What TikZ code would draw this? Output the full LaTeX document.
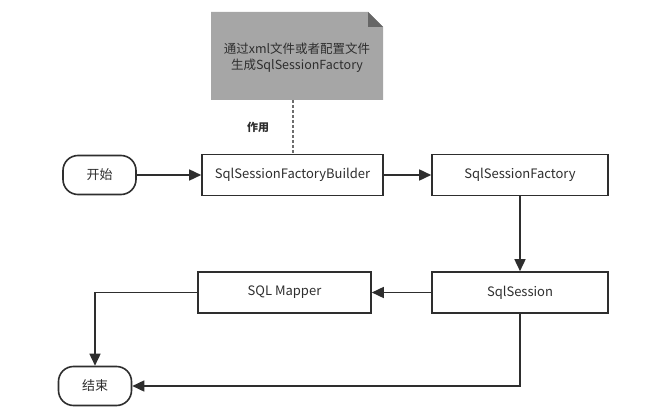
\documentclass[tikz,border=0pt]{standalone}
\usepackage{fontspec}
\setmainfont{Noto Sans CJK SC}
\usetikzlibrary{arrows.meta}
\definecolor{ln}{HTML}{2E2E2E}
\definecolor{notefill}{HTML}{A6A6A6}
\definecolor{notecorner}{HTML}{666666}
\tikzset{
  box/.style={draw=ln, line width=1.6pt, fill=white, minimum height=41pt, font=\fontsize{13}{15}\selectfont, text=ln},
  term/.style={box, rounded corners=15pt, minimum width=73pt, minimum height=39pt},
  conn/.style={draw=ln, line width=1.6pt, -{Triangle[length=12pt,width=11pt]}},
}
\begin{document}
\begin{tikzpicture}[x=1pt,y=-1pt]
\useasboundingbox (0,0) rectangle (664,417);
% note
\fill[notefill] (211,12) -- (368,12) -- (383,27) -- (383,100) -- (211,100) -- cycle;
\fill[notecorner] (368,12) -- (383,27) -- (368,27) -- cycle;
\node[align=center, font=\fontsize{12.5}{16}\selectfont, text=ln] (note) at (297,58) {通过xml文件或者配置文件\\生成SqlSessionFactory};
\coordinate (noteb) at (293,100);
\node[font=\bfseries\fontsize{11}{13}\selectfont, text=ln] (use) at (258,127) {作用};

\node[term] (start) at (99.5,175) {开始};
\node[box, minimum width=181pt] (builder) at (292.5,175) {SqlSessionFactoryBuilder};
\node[box, minimum width=176pt] (factory) at (520,175) {SqlSessionFactory};
\node[box, minimum width=176pt] (session) at (520,292.5) {SqlSession};
\node[box, minimum width=173pt] (mapper) at (284.5,292.5) {SQL Mapper};
\node[term] (end) at (95,386) {结束};

\draw[ln!70, line width=1.2pt, dash pattern=on 3pt off 2pt] (noteb) -- (noteb |- builder.north);
\draw[conn] (start) -- (builder);
\draw[conn] (builder) -- (factory);
\draw[conn] (factory) -- (session);
\draw[conn] (session) -- (mapper);
\draw[conn] (mapper.west) -| (end.north);
\draw[conn] (session.south) |- (end.east);
\end{tikzpicture}
\end{document}
